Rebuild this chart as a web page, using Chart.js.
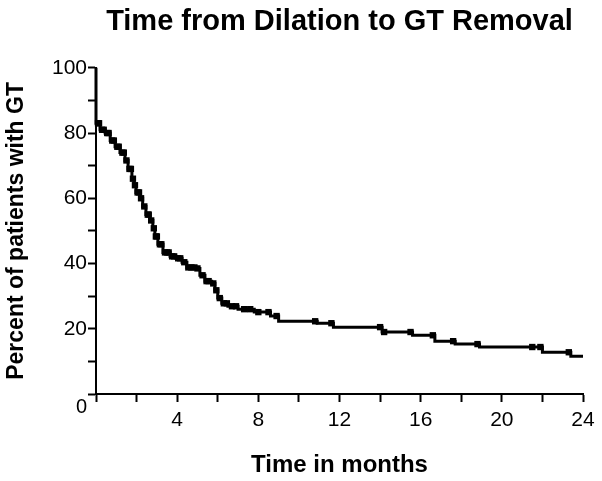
<!DOCTYPE html>
<html>
<head>
<meta charset="utf-8">
<script src="https://cdn.jsdelivr.net/npm/chart.js@4/dist/chart.umd.min.js"></script>
<style>
    html, body { margin: 0; padding: 0; background: #fff; }
    #wrap { width: 602px; height: 481px; }
</style>
</head>
<body>
<div id="wrap"><canvas id="kmChart" width="602" height="481"></canvas></div>
<script>
// Kaplan-Meier steps: time (months) where the curve drops, and the new percent
const stepTimes = [0, 0, 0.2, 0.45, 0.7, 0.94, 1.18, 1.43, 1.58, 1.77, 1.87, 1.97, 2.17, 2.3, 2.46, 2.66, 2.8, 2.9,
    3.05, 3.3, 3.65, 3.94, 4.24, 4.48, 4.93, 5.12, 5.37, 5.7, 5.86, 6.0, 6.2, 6.5, 7.0, 7.8, 8.6, 9.0,
    10.9, 11.7, 14.1, 15.6, 16.7, 17.7, 18.9, 22.0, 23.4, 24];
const stepPercent = [100, 83, 81, 80, 77.7, 75.8, 74, 71.6, 69, 66, 64, 61.8, 60, 57.5, 55, 53.2, 50.8, 48.3,
    45.9, 43.4, 42.2, 41.6, 40.4, 38.8, 38.5, 36.4, 34.6, 33.9, 31.8, 29.4, 27.8, 26.9, 26, 25.1, 23.9, 22.3,
    21.7, 20.5, 19, 18, 16.2, 15.3, 14.4, 12.8, 11.6, 11.6];

// censored patients (tick marks on the curve)
const censorTimes = [0.1, 0.15, 0.3, 0.38, 0.55, 0.62, 0.8, 0.88, 1.05, 1.12, 1.3, 1.37, 1.5, 1.65, 1.72, 1.82,
    1.92, 2.05, 2.12, 2.22, 2.38, 2.55, 2.6, 2.72, 2.85, 2.95, 3.0, 3.15, 3.22, 3.4, 3.5, 3.58, 3.75, 3.85,
    4.05, 4.15, 4.35, 4.55, 4.7, 4.85, 5.0, 5.25, 5.45, 5.55, 5.78, 5.93, 6.1, 6.3, 6.45, 6.7, 6.9, 7.3, 7.6,
    8.0, 8.5, 8.9, 10.8, 11.6, 14.0, 14.2, 15.5, 16.6, 17.6, 18.8, 21.5, 21.9, 23.3];
const censorPercent = [83, 83, 81, 81, 80, 80, 77.7, 77.7, 75.8, 75.8, 74, 74, 71.6, 69, 69, 66,
    64, 61.8, 61.8, 60, 57.5, 55, 55, 53.2, 50.8, 48.3, 48.3, 45.9, 45.9, 43.4, 43.4, 43.4, 42.2, 42.2,
    41.6, 41.6, 40.4, 38.8, 38.8, 38.8, 38.5, 36.4, 34.6, 34.6, 33.9, 31.8, 29.4, 27.8, 27.8, 26.9, 26.9, 26, 26,
    25.1, 25.1, 23.9, 22.3, 21.7, 20.5, 19, 19, 18, 16.2, 15.3, 14.4, 14.4, 12.8];

const xLabelTicks = [4, 8, 12, 16, 20, 24];
const yLabelTicks = [20, 40, 60, 80, 100];

(function () {
    const fontFamily = '"Liberation Sans", Arial, sans-serif';

    const kmPoints = stepTimes.map((t, i) => ({ x: t, y: stepPercent[i] }));
    const censorPoints = censorTimes.map((t, i) => ({ x: t, y: censorPercent[i] }));

    // the single "0" at the origin, set below-left like the original
    const originLabel = {
        id: 'originLabel',
        afterDraw(chart) {
            const ctx = chart.ctx;
            const x = chart.scales.x.getPixelForValue(0);
            const y = chart.scales.y.getPixelForValue(0);
            ctx.save();
            ctx.font = '20px ' + fontFamily;
            ctx.fillStyle = '#000';
            ctx.textAlign = 'right';
            ctx.textBaseline = 'middle';
            ctx.fillText('0', x - 9, y + 13);
            ctx.restore();
        },
    };

    new Chart(document.getElementById('kmChart'), {
        type: 'line',
        data: {
            datasets: [
                {
                    label: 'Percent with GT',
                    data: kmPoints,
                    borderColor: '#000',
                    borderWidth: 3,
                    stepped: true,
                    pointRadius: 0,
                    fill: false,
                    clip: false,
                },
                {
                    label: 'Censored',
                    data: censorPoints,
                    showLine: false,
                    pointStyle: 'rect',
                    pointRadius: 4.5,
                    backgroundColor: '#000',
                    borderColor: '#000',
                    borderWidth: 0,
                    clip: false,
                },
            ],
        },
        options: {
            responsive: false,
            animation: false,
            layout: {
                padding: { right: 19 },
            },
            plugins: {
                legend: { display: false },
                tooltip: { enabled: false },
                title: {
                    display: true,
                    text: 'Time from Dilation to GT Removal',
                    color: '#000',
                    fullSize: false,
                    font: { family: fontFamily, size: 29, weight: 'bold' },
                    padding: { top: 5, bottom: 28 },
                },
            },
            scales: {
                x: {
                    type: 'linear',
                    min: 0,
                    max: 24,
                    afterFit(scale) {
                        scale.height = 87;
                    },
                    border: { display: true, color: '#000', width: 2 },
                    grid: {
                        drawOnChartArea: false,
                        drawTicks: true,
                        tickLength: 8,
                        tickWidth: 2,
                        tickColor: '#000',
                    },
                    ticks: {
                        stepSize: 2,
                        autoSkip: false,
                        maxRotation: 0,
                        color: '#000',
                        padding: 6,
                        font: { family: fontFamily, size: 21 },
                        callback: (value) => (xLabelTicks.includes(value) ? String(value) : ''),
                    },
                    title: {
                        display: true,
                        text: 'Time in months',
                        color: '#000',
                        font: { family: fontFamily, size: 24, weight: 'bold' },
                        padding: { top: 0, bottom: 1 },
                    },
                },
                y: {
                    min: 0,
                    max: 100,
                    afterFit(scale) {
                        scale.width = 96;
                    },
                    border: { display: true, color: '#000', width: 2 },
                    grid: {
                        drawOnChartArea: false,
                        drawTicks: true,
                        tickLength: 8,
                        tickWidth: 2,
                        tickColor: '#000',
                    },
                    ticks: {
                        stepSize: 10,
                        autoSkip: false,
                        color: '#000',
                        padding: 1,
                        font: { family: fontFamily, size: 21 },
                        callback: (value) => (yLabelTicks.includes(value) ? String(value) : ''),
                    },
                    title: {
                        display: true,
                        text: 'Percent of patients with GT',
                        color: '#000',
                        font: { family: fontFamily, size: 23, weight: 'bold' },
                        padding: { top: 3, bottom: 0 },
                    },
                },
            },
        },
        plugins: [originLabel],
    });
})();
</script>
</body>
</html>
